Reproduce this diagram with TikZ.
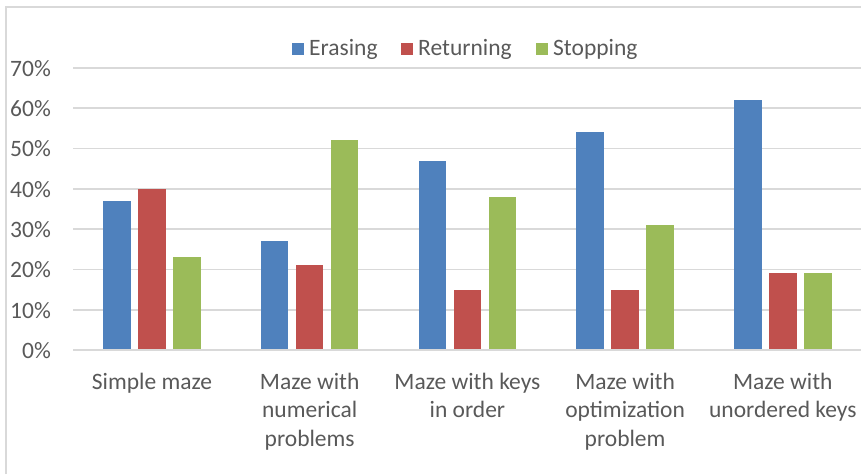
\documentclass[tikz,border=0pt]{standalone}
\usepackage{fontspec}
\setmainfont{Carlito}
\usepackage{tikz}
\usetikzlibrary{positioning}
\definecolor{erasingblue}{HTML}{4F81BD}
\definecolor{returningred}{HTML}{C0504D}
\definecolor{stoppinggreen}{HTML}{9BBB59}
\definecolor{gridgray}{HTML}{D9D9D9}
\definecolor{labelgray}{HTML}{595959}

\begin{document}
\begin{tikzpicture}[x=1pt, y=-1pt]
    % Define styles for lines, bars and texts
    \tikzstyle{frame} = [draw=gridgray, line width=1.5pt]
    \tikzstyle{gridline} = [draw=gridgray, line width=1.6pt]
    \tikzstyle{baseaxis} = [draw=gridgray, line width=2.6pt]
    \tikzstyle{chartfont} = [text=labelgray, font=\fontsize{23.5}{28.3}\selectfont]
    \tikzstyle{ticklabel} = [chartfont, anchor=base east, inner sep=0pt]
    \tikzstyle{category} = [chartfont, anchor=north, align=center, inner sep=0pt]
    \tikzstyle{legendtext} = [chartfont, anchor=base west, inner sep=0pt]
    \tikzstyle{legendkey} = [rectangle, minimum size=11.5pt, inner sep=0pt]
    \useasboundingbox (0,0) rectangle (861,474);

    % Frame of the chart area
    \draw [frame] (6,474) -- (6,7) -- (861,7);

    % Grid lines and y labels
    \foreach \k in {1,...,7} {
        \draw [gridline] (73,350-40.3*\k) -- (861,350-40.3*\k);
    }
    \foreach \k in {0,...,7} {
        \pgfmathtruncatemacro{\pct}{10*\k}
        \node (tick\k) [ticklabel] at (51,358.3-40.3*\k) {\pct\%};
    }

    % Bars and category labels
    \foreach \i/\a/\b/\c/\name in {0/37/40/23/{Simple maze},
                                  1/27/21/52/{Maze with\\numerical\\problems},
                                  2/47/15/38/{Maze with keys\\in order},
                                  3/54/15/31/{Maze with\\optimization\\problem},
                                  4/62/19/19/{Maze with\\unordered keys}} {
        \pgfmathsetmacro{\cx}{152+157.7*\i}
        \fill [erasingblue] (\cx-48.7,350) rectangle (\cx-21.3,350-4.03*\a);
        \fill [returningred] (\cx-13.7,350) rectangle (\cx+13.7,350-4.03*\b);
        \fill [stoppinggreen] (\cx+21.3,350) rectangle (\cx+48.7,350-4.03*\c);
        \node (cat\i) [category] at (\cx,369.5) {\strut\name};
    }
    \draw [baseaxis] (73,350) -- (861,350);

    % Legend
    \node (txtE) [legendtext] at (309,55) {Erasing};
    \node (txtR) [legendtext] at (418,55) {Returning};
    \node (txtS) [legendtext] at (553,55) {Stopping};
    \node (keyE) [legendkey, fill=erasingblue, left=5pt of txtE] {};
    \node (keyR) [legendkey, fill=returningred, left=5pt of txtR] {};
    \node (keyS) [legendkey, fill=stoppinggreen, left=5pt of txtS] {};
\end{tikzpicture}
\end{document}
